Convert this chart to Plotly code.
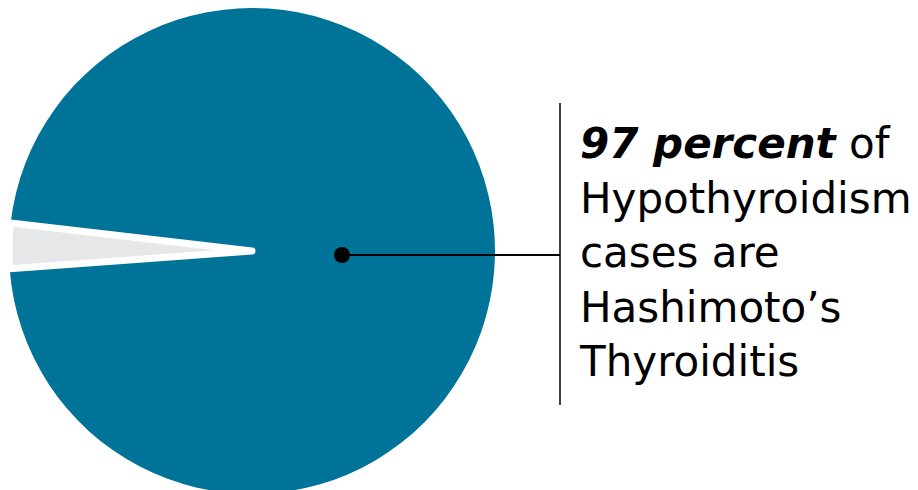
import plotly.graph_objects as go

labels = ["Hashimoto's Thyroiditis", "Other causes"]
values = [97, 3]
colors = ["#007398", "#E6E7E8"]

W, H = 918, 490
DOMAIN = dict(x=[1 / W, 487 / W], y=[1 - 486 / H, 1])
ROT = -83.4

fig = go.Figure()
# base layer: full-size blue disc with the small slice left blank
fig.add_trace(go.Pie(
    labels=labels, values=values, sort=False, direction="clockwise",
    rotation=ROT,
    marker=dict(colors=[colors[0], "white"], line=dict(width=0)),
    textinfo="none", hoverinfo="skip", showlegend=False, domain=DOMAIN,
))
# top layer: the small slice in grey, with a white gap around it
fig.add_trace(go.Pie(
    labels=labels, values=values, sort=False, direction="clockwise",
    rotation=ROT,
    marker=dict(colors=["rgba(0,0,0,0)", colors[1]],
                line=dict(color=["rgba(0,0,0,0)", "white"], width=[0, 7])),
    textinfo="none", hoverinfo="skip", showlegend=False, domain=DOMAIN,
))

def px(x):
    return x / W

def py(y):
    return 1 - y / H

shapes = [
    dict(type="line", xref="paper", yref="paper",
         x0=px(334), x1=px(552), y0=py(247), y1=py(247),
         line=dict(color="black", width=2)),
    dict(type="line", xref="paper", yref="paper",
         x0=px(552), x1=px(552), y0=py(95), y1=py(397),
         line=dict(color="black", width=1.5)),
    dict(type="circle", xref="paper", yref="paper",
         x0=px(326), x1=px(342), y0=py(239), y1=py(255),
         fillcolor="black", line=dict(color="black", width=0)),
]

text = ("<b><i>97 percent</i></b> of<br>Hypothyroidism<br>cases are"
        "<br>Hashimoto’s<br>Thyroiditis")

fig.update_layout(
    width=W, height=H,
    margin=dict(l=0, r=0, t=0, b=0),
    paper_bgcolor="white",
    plot_bgcolor="white",
    shapes=shapes,
    annotations=[dict(
        text=text, xref="paper", yref="paper",
        x=px(570), y=py(244), xanchor="left", yanchor="middle",
        align="left", showarrow=False, borderpad=0,
        font=dict(family="DejaVu Sans", size=42, color="black"),
    )],
)

fig.write_html("out.html")
